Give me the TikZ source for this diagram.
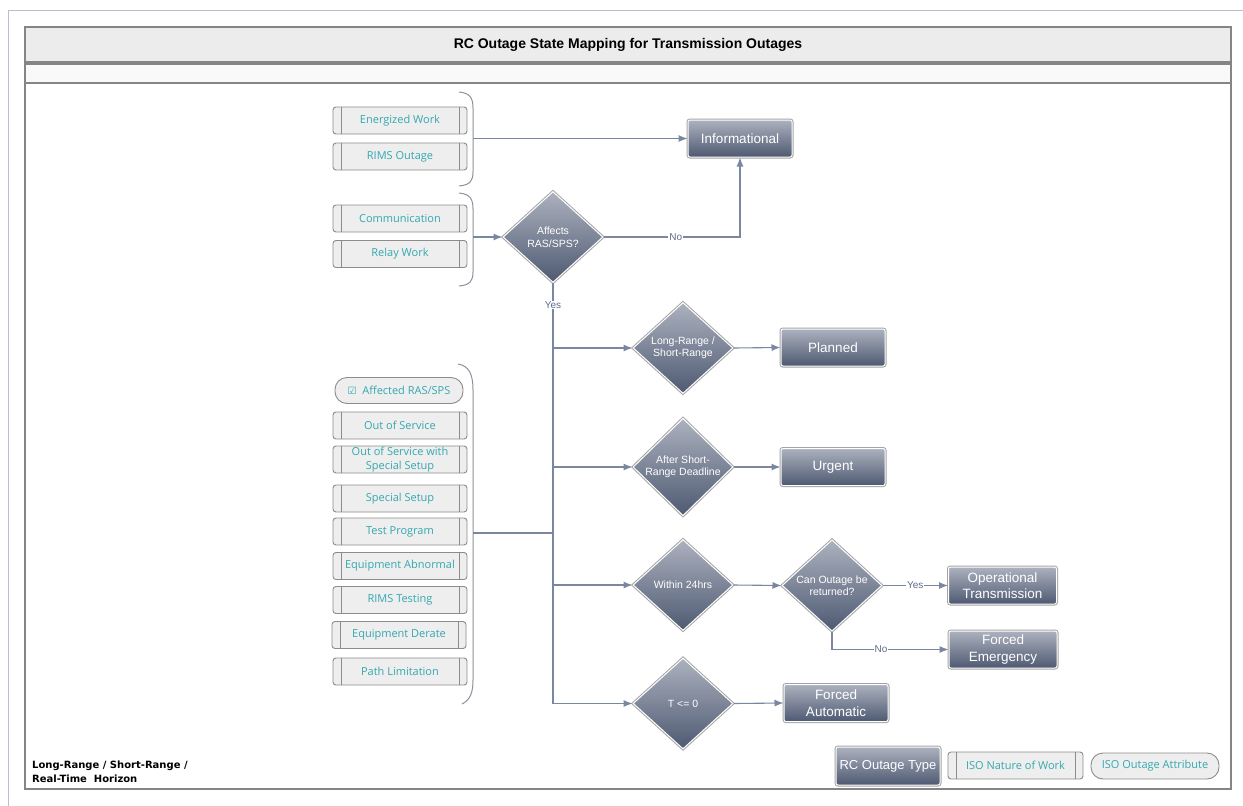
\documentclass[tikz,border=0pt]{standalone}
\usepackage{fontspec}
\setmainfont{Liberation Sans}
\newfontfamily\isofont{Open Sans}
\newfontfamily\symfont{DejaVu Sans}
\newfontfamily\legfont{DejaVu Sans}
\usetikzlibrary{shapes.geometric,arrows.meta}
\definecolor{connc}{HTML}{7A87A0}
\definecolor{darktop}{HTML}{ACB1BE}
\definecolor{darkbot}{HTML}{4E5A72}
\definecolor{edgegray}{HTML}{A4A4A4}
\definecolor{isofill}{HTML}{EEEEEE}
\definecolor{isoedge}{HTML}{8C8C8C}
\definecolor{tealc}{HTML}{33A8B0}
\definecolor{lblc}{HTML}{5D6D8A}
\definecolor{bandc}{HTML}{ECECEC}
\definecolor{band2c}{HTML}{F9F9F9}
\definecolor{framec}{HTML}{858585}
\definecolor{outerc}{HTML}{B8C0D0}
\definecolor{bracec}{HTML}{8C919C}
\tikzset{
  conn/.style={draw=connc, line width=1.1pt},
  arr/.style={conn, -{Latex[length=9pt,width=7pt]}},
  lbl/.style={fill=white, text=lblc, font=\fontsize{10}{11}\selectfont, inner sep=1pt},
  darkbox/.style={rectangle, rounded corners=2pt, top color=darktop, bottom color=darkbot,
    draw=white, line width=1pt, preaction={draw=edgegray, line width=3pt},
    text=white, font=\fontsize{13.5}{16.5}\selectfont, minimum width=104pt, minimum height=37pt,
    align=center, inner sep=1pt},
  dia/.style={diamond, top color=darktop, bottom color=darkbot,
    draw=white, line width=1pt, preaction={draw=edgegray, line width=3pt},
    text=white, font=\fontsize{10.5}{12.5}\selectfont, minimum width=100pt, minimum height=91pt,
    align=center, inner sep=0pt},
  isobox/.style={rectangle, rounded corners=3pt, fill=isofill, draw=isoedge, line width=0.9pt,
    minimum width=134pt, minimum height=27pt, inner sep=0pt, text=tealc,
    font=\isofont\fontsize{11}{14}\selectfont, align=center,
    path picture={
      \draw[isoedge, line width=0.8pt] ([xshift=8pt]path picture bounding box.north west) -- ([xshift=8pt]path picture bounding box.south west);
      \draw[isoedge, line width=0.8pt] ([xshift=-8pt]path picture bounding box.north east) -- ([xshift=-8pt]path picture bounding box.south east);
    }},
  pill/.style={rectangle, rounded corners=12pt, fill=isofill, draw=isoedge, line width=0.9pt,
    minimum width=128pt, minimum height=26pt, inner sep=0pt, text=tealc,
    font=\isofont\fontsize{11}{12}\selectfont},
  bracepath/.style={draw=bracec, line width=1pt},
}
\begin{document}
\begin{tikzpicture}[x=1pt,y=-1pt]
\useasboundingbox (0,0) rectangle (1243,806);
\fill[white] (0,0) rectangle (1243,806);
% outer frame
\draw[outerc, line width=0.8pt] (8,806) -- (8,10.5) -- (1243,10.5);
\node[rectangle, minimum width=1206pt, minimum height=35pt, fill=bandc, draw=framec, line width=1.1pt,
  font=\bfseries\fontsize{14}{16}\selectfont, inner sep=0pt] (title) at (628,44.5)
  {RC Outage State Mapping for Transmission Outages};
\node[rectangle, minimum width=1206pt, minimum height=19pt, fill=band2c, draw=framec, line width=1.1pt,
  inner sep=0pt] (subband) at (628,73.5) {};
\draw[framec, line width=1.1pt] (25,83) -- (25,789) -- (1231,789) -- (1231,83);

% ISO nature of work boxes (top)
\node[isobox] (ew) at (400,120.5) {Energized Work};
\node[isobox] (rimso) at (400,156.5) {RIMS Outage};
\node[isobox] (comm) at (400,218.5) {Communication};
\node[isobox] (relay) at (400,254) {Relay Work};

% lower group
\node[pill] (ars) at (399,390.5) {{\symfont\fontsize{10}{11}\selectfont\char"2611}\ \ Affected RAS/SPS};
\node[isobox] (oos) at (400,425.5) {Out of Service};
\node[isobox] (ooss) at (400,459.5) {Out of Service with\\Special Setup};
\node[isobox] (ss) at (400,498.5) {Special Setup};
\node[isobox] (tp) at (400,531.5) {Test Program};
\node[isobox] (ea) at (400,566) {Equipment Abnormal};
\node[isobox] (rt) at (400,600) {RIMS Testing};
\node[isobox] (ed) at (399,635) {Equipment Derate};
\node[isobox] (pl) at (400,671.5) {Path Limitation};

% braces
\draw[bracepath] (459,92) .. controls (470,93) and (473,98) .. (473,108) -- (473,172) .. controls (473,181) and (470,185) .. (459,186);
\draw[bracepath] (459,193) .. controls (470,194) and (473,199) .. (473,209) -- (473,272) .. controls (473,281) and (470,285) .. (459,286);
\draw[bracepath] (458,364) .. controls (469,366) and (473,374) .. (473,390) -- (473,680) .. controls (473,693) and (470,700) .. (462,704);
\coordinate (b1) at (473,138.5);
\coordinate (b2) at (473,237);
\coordinate (b3) at (473,533);

% RC outage types
\node[darkbox] (info) at (740,138.5) {Informational};
\node[darkbox] (planned) at (833,347.5) {Planned};
\node[darkbox] (urgent) at (833,467) {Urgent};
\node[darkbox, minimum width=108pt] (optr) at (1002.5,585.5) {Operational\\Transmission};
\node[darkbox, minimum width=108pt] (fe) at (1003,649.5) {Forced\\Emergency};
\node[darkbox] (fa) at (836,703) {Forced\\Automatic};

% decisions
\node[dia] (affects) at (553,237) {Affects\\RAS/SPS?};
\node[dia] (lr) at (683,348) {Long-Range /\\Short-Range};
\node[dia] (asr) at (683,467) {After Short-\\Range Deadline};
\node[dia] (w24) at (683,585) {Within 24hrs};
\node[dia] (can) at (832,585.5) {Can Outage be\\returned?};
\node[dia] (tz) at (683,703.5) {T <= 0};

% connectors
\draw[arr] (b1) -- (info.west);
\draw[arr] (b2) -- (affects.west);
\draw[arr] (affects.east) -- node[lbl, pos=0.53] {No} (affects.east -| info.south) -- (info.south);
\draw[arr] (affects.south) |- (tz.west);
\node[lbl] (yeslbl) at (553,305) {Yes};
\draw[arr] (affects.south |- lr.west) -- (lr.west);
\draw[arr] (affects.south |- asr.west) -- (asr.west);
\draw[arr] (affects.south |- w24.west) -- (w24.west);
\draw[conn] (b3) -- (affects.south |- b3);
\draw[arr] (lr.east) -- (planned.west);
\draw[arr] (asr.east) -- (urgent.west);
\draw[arr] (w24.east) -- (can.west);
\draw[arr] (can.east) -- node[lbl] {Yes} (optr.west);
\draw[arr] (can.south) |- node[lbl, pos=0.71] {No} (fe.west);
\draw[arr] (tz.east) -- (fa.west);

% legend
\node[darkbox, minimum width=104pt, minimum height=38pt, font=\fontsize{13}{15}\selectfont] (legrc) at (888,766) {RC Outage Type};
\node[isobox, minimum width=135pt] (legiso) at (1015.5,765.5) {ISO Nature of Work};
\node[pill] (legattr) at (1155,766) {ISO Outage Attribute};
\node[anchor=north west, align=left, inner sep=0pt, font=\legfont\bfseries\fontsize{10}{14}\selectfont] (horizon) at (32,761)
  {Long-Range / Short-Range /\\Real-Time\ \ Horizon};
\end{tikzpicture}
\end{document}
